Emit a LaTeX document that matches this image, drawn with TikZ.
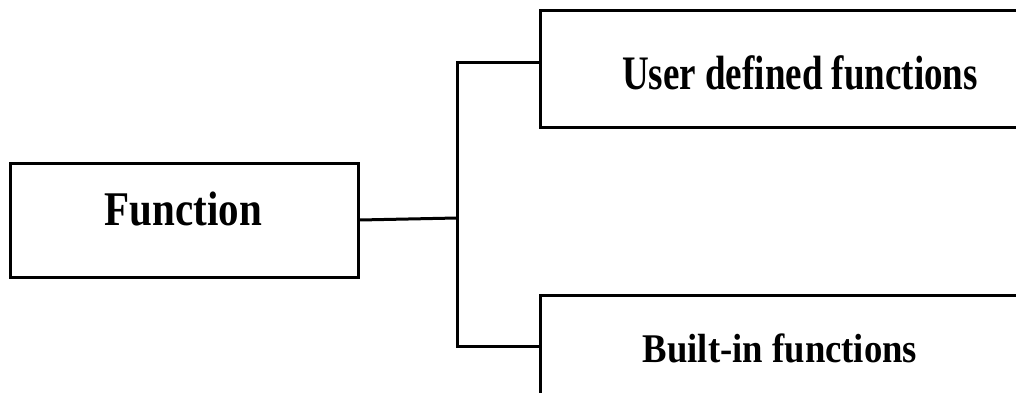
\documentclass[tikz,border=0pt]{standalone}
\usepackage{fontspec}
\setmainfont{Liberation Serif}
\begin{document}
\begin{tikzpicture}[x=1pt,y=-1pt,
  box/.style={draw=black,line width=3pt,rectangle,inner sep=0pt},
  lbl/.style={anchor=base,inner sep=0pt},
  link/.style={draw=black,line width=3pt}]
\clip (0,0) rectangle (1016,393);
\fill[white] (0,0) rectangle (1016,393);
\node[box,minimum width=348pt,minimum height=114pt] (fn) at (184,220) {};
\node[box,minimum width=520pt,minimum height=116pt] (user) at (800,69) {};
\node[box,minimum width=480pt,minimum height=150pt] (built) at (780,370) {};
\node[lbl] (fnt) at (183.5,225) {\scalebox{1}[1.18]{\bfseries\fontsize{41}{44}\selectfont Function}};
\node[lbl] (usert) at (800,90) {\scalebox{1}[1.3]{\bfseries\fontsize{37}{40}\selectfont User defined functions}};
\node[lbl] (builtt) at (780,362) {\scalebox{1}[1.11]{\bfseries\fontsize{36.7}{40}\selectfont Built-in functions}};
\coordinate (j) at (457,218);
\coordinate (ut) at (540,63);
\coordinate (bt) at (540,346);
\draw[link] (fn.east) -- (j);
\draw[link] (j) |- (ut);
\draw[link] (j) |- (bt);
\end{tikzpicture}
\end{document}
